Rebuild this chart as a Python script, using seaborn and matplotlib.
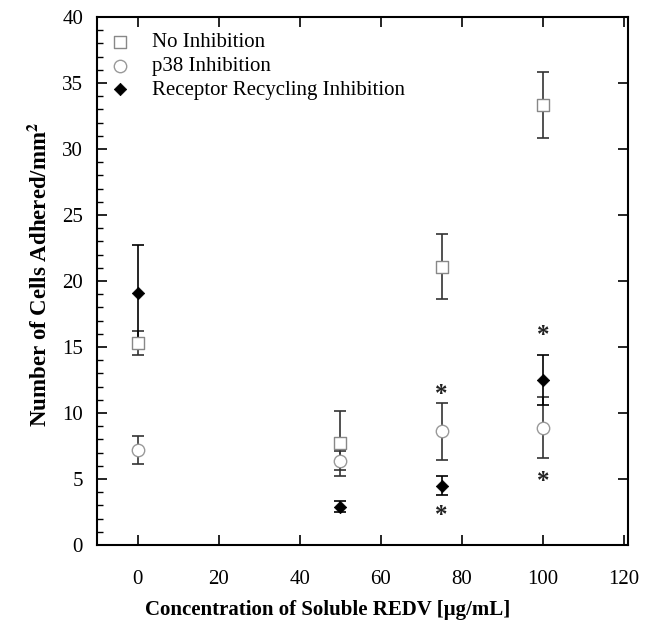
import matplotlib
matplotlib.use("Agg")
import matplotlib.pyplot as plt
import seaborn as sns
import pandas as pd
from matplotlib.ticker import MultipleLocator

conc = [0, 50, 75, 100]
no_inh = [15.3, 7.7, 21.1, 33.3]
no_inh_err = [0.9, 2.45, 2.5, 2.5]
p38 = [7.2, 6.4, 8.6, 8.9]
p38_err = [1.05, 0.7, 2.15, 2.3]
rri = [19.1, 2.9, 4.5, 12.5]
rri_err = [3.6, 0.4, 0.75, 1.9]
star_x = [75, 75, 100, 100]
star_y = [11.4, 2.2, 15.9, 4.8]

sns.set_style("ticks")
plt.rcParams['font.family'] = ['Liberation Serif', 'DejaVu Serif']
plt.rcParams['mathtext.fontset'] = 'stix'
plt.rcParams['text.color'] = 'black'
plt.rcParams['axes.labelcolor'] = 'black'
plt.rcParams['xtick.color'] = 'black'
plt.rcParams['ytick.color'] = 'black'
plt.rcParams['axes.edgecolor'] = 'black'

fig = plt.figure(figsize=(6.53, 6.32), dpi=100)
ax = fig.add_axes([0.1485, 0.1377, 0.8132, 0.8353])

df = pd.DataFrame({
    "x": conc * 3,
    "y": no_inh + p38 + rri,
    "s": ["No Inhibition"] * 4 + ["p38 Inhibition"] * 4 + ["Receptor Recycling Inhibition"] * 4,
})

ax.errorbar(conc, no_inh, yerr=no_inh_err, fmt="none", ecolor="#333333", elinewidth=1.2, capsize=4, capthick=1.2, zorder=2)
ax.errorbar(conc, p38, yerr=p38_err, fmt="none", ecolor="#333333", elinewidth=1.2, capsize=4, capthick=1.2, zorder=2)
ax.errorbar(conc, rri, yerr=rri_err, fmt="none", ecolor="black", elinewidth=1.2, capsize=4, capthick=1.2, zorder=2)

sub = df[df.s == "No Inhibition"]
sns.scatterplot(data=sub, x="x", y="y", marker="s", s=80, facecolor="white", edgecolor="#888888", linewidth=1.0, ax=ax, label="No Inhibition", zorder=3)
sub = df[df.s == "p38 Inhibition"]
sns.scatterplot(data=sub, x="x", y="y", marker="o", s=80, facecolor="white", edgecolor="#999999", linewidth=1.0, ax=ax, label="p38 Inhibition", zorder=3)
sub = df[df.s == "Receptor Recycling Inhibition"]
sns.scatterplot(data=sub, x="x", y="y", marker="D", s=40, color="black", edgecolor="black", ax=ax, label="Receptor Recycling Inhibition", zorder=4)

for xs, ys in zip(star_x, star_y):
    ax.text(xs, ys, "*", ha="center", va="center", fontsize=18, fontweight="bold", color="#222222")

ax.set_xlim(-10, 121)
ax.set_ylim(0, 40)
ax.xaxis.set_major_locator(MultipleLocator(20))
ax.yaxis.set_major_locator(MultipleLocator(5))
ax.yaxis.set_minor_locator(MultipleLocator(1))
ax.tick_params(axis="both", which="both", direction="in", top=True, right=True, labelsize=15)
ax.tick_params(axis="both", which="major", length=7, width=1.2)
ax.tick_params(axis="y", which="minor", length=4, width=1.0, right=False)
ax.tick_params(axis="x", which="major", pad=18)
ax.tick_params(axis="y", which="major", pad=10)
for sp in ax.spines.values():
    sp.set_linewidth(1.5)
    sp.set_visible(True)

ax.set_xlabel("Concentration of Soluble REDV [μg/mL]", fontsize=15, fontweight="bold")
ax.set_ylabel("Number of Cells Adhered/mm$^{\\mathbf{2}}$", fontsize=16.5, fontweight="bold")
ax.xaxis.set_label_coords(0.435, -0.104)
ax.yaxis.set_label_coords(-0.084, 0.513)

leg = ax.legend(loc="upper left", bbox_to_anchor=(0.0, 0.994), frameon=False, fontsize=15,
                handlelength=1.0, handletextpad=1.05, labelspacing=0.2, borderaxespad=0.2)

fig.savefig("out.png", dpi=100)
